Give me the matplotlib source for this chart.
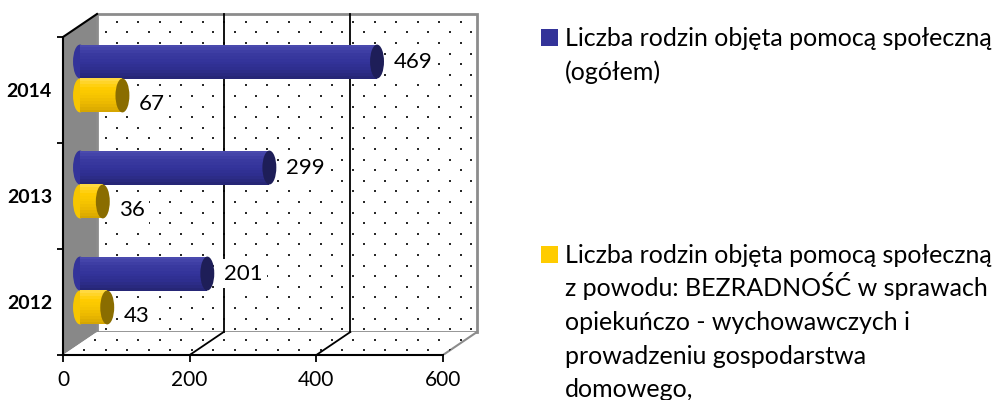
import numpy as np
import matplotlib.pyplot as plt
from matplotlib.patches import Polygon, Rectangle, Ellipse
from matplotlib.colors import to_rgb

# dane
years = ['2012', '2013', '2014']
ogolem = [201, 299, 469]
bezradnosc = [43, 36, 67]
legend_1 = ['Liczba rodzin objęta pomocą społeczną', '(ogółem)']
legend_2 = ['Liczba rodzin objęta pomocą społeczną',
            'z powodu: BEZRADNOŚĆ w sprawach',
            'opiekuńczo - wychowawczych i',
            'prowadzeniu gospodarstwa',
            'domowego,']

plt.rcParams['font.family'] = ['Lato', 'DejaVu Sans']

fig = plt.figure(figsize=(9.99, 4.0), dpi=100)
# front plane: 0 -> x=63px, 600 -> x=443px ; y 0..3 -> 355px..37px
ax = fig.add_axes([63 / 999, 45 / 400, 660 * 380 / 600 / 999, 3.25 * 106 / 400])
ax.set_xlim(0, 660)
ax.set_ylim(0, 3.25)

DX = 34 * 600 / 380   # glebokosc 3D w jednostkach osi
DY = 23 / 106

# sciany
left_wall = Polygon([(0, 0), (0, 3), (DX, 3 + DY), (DX, DY)], fc='#888888', ec='none', zorder=1)
back_wall = Rectangle((DX, DY), 600, 3, fc='white', ec='#8c8c8c', lw=2, zorder=1)
floor = Polygon([(0, 0), (DX, DY), (600 + DX, DY), (600, 0)], fc='white', ec='none', zorder=1)
for p in (left_wall, back_wall, floor):
    ax.add_patch(p)
ax.plot([600, 600 + DX], [0, DY], color='#8c8c8c', lw=1.5, zorder=1)
ax.plot([0, DX], [3, 3 + DY], color='black', lw=1.5, zorder=2)

# kropki (wzor tla)
sx, sy = 21.5 * 600 / 380, 0.1
dots_x, dots_y = [], []
for k in range(34):
    y = 0.0425 + k * sy
    base = 16.9 if k % 2 else 16.9 - sx / 2
    xs = np.arange(base, 700, sx)
    dots_x.extend(xs)
    dots_y.extend([y] * len(xs))
for p in (back_wall, floor):
    sc = ax.scatter(dots_x, dots_y, s=3.5, marker='s', color='#2a2a2a', lw=0, zorder=1.5)
    sc.set_clip_path(p)

# linie siatki
for g in (200, 400):
    ax.plot([g + DX, g + DX], [DY, 3 + DY], color='black', lw=1.3, zorder=2)
    ax.plot([g, g + DX], [0, DY], color='black', lw=1.3, zorder=2)


def shades(stops, n):
    t = np.linspace(0, 1, n)
    pos = np.linspace(0, 1, len(stops))
    rgb = np.array([to_rgb(c) for c in stops])
    return [tuple(np.interp(tt, pos, rgb[:, i]) for i in range(3)) for tt in t]


ycat = np.arange(len(years)) + 0.5
h = 0.32
N = 12
series = [
    (ogolem, 0.16, ['#4a4aae', '#3a3aa0', '#33339a', '#2e2e8e', '#262676'], '#1e1e58', 0.0),
    (bezradnosc, -0.16, ['#ffd940', '#ffcc00', '#f7c600', '#ebb800', '#d6a600'], '#8a6d00', -0.085),
]
for vals, off, stops, cap, loff in series:
    yc = ycat + off + DY / 2
    mid = stops[2]
    for v, y in zip(vals, yc):
        ax.add_patch(Ellipse((DX / 2, y), 22, h, fc=mid, ec='none', zorder=3))
    for i, c in enumerate(shades(stops, N)):
        ax.barh(yc + h / 2 - (i + 0.5) * h / N, vals, left=DX / 2, height=h / N * 1.02,
                color=c, lw=0, zorder=3.1)
    for v, y in zip(vals, yc):
        ax.add_patch(Ellipse((DX / 2 + v, y), 22, h, fc=cap, ec='none', zorder=3.5))
        ax.text(DX / 2 + v + 11 + 15, y + loff, str(v), ha='left', va='center', fontsize=16,
                zorder=4, bbox=dict(fc='white', ec='none', pad=3))

# osie
for s in ('top', 'right'):
    ax.spines[s].set_visible(False)
ax.spines['left'].set_bounds(0, 3)
ax.spines['bottom'].set_bounds(0, 600)
ax.spines['left'].set_linewidth(1.5)
ax.spines['bottom'].set_linewidth(1.5)
ax.spines['left'].set_zorder(5)
ax.spines['bottom'].set_zorder(5)
ax.set_xticks([0, 200, 400, 600])
ax.tick_params(axis='x', length=5, width=1.3, labelsize=15, pad=6)
ax.set_yticks([0, 1, 2, 3])
ax.set_yticklabels([])
ax.tick_params(axis='y', which='major', length=4, width=1.3)
ax.set_yticks(ycat, minor=True)
ax.set_yticklabels(years, minor=True, fontsize=14, fontweight='bold')
ax.tick_params(axis='y', which='minor', length=0, pad=8)
ax.patch.set_visible(False)

# legenda
fig.patches.append(Rectangle((541 / 999, 1 - 46 / 400), 17 / 999, 17 / 400,
                             transform=fig.transFigure, fc='#333399', ec='none'))
fig.patches.append(Rectangle((541 / 999, 1 - 263 / 400), 17 / 999, 17 / 400,
                             transform=fig.transFigure, fc='#ffcc00', ec='none'))
for i, line in enumerate(legend_1):
    fig.text(565 / 999, 1 - (46 + i * 34.5) / 400, line, va='baseline', fontsize=18)
for i, line in enumerate(legend_2):
    fig.text(565 / 999, 1 - (263 + i * 33.5) / 400, line, va='baseline', fontsize=18)

fig.savefig('out.png', dpi=100)
